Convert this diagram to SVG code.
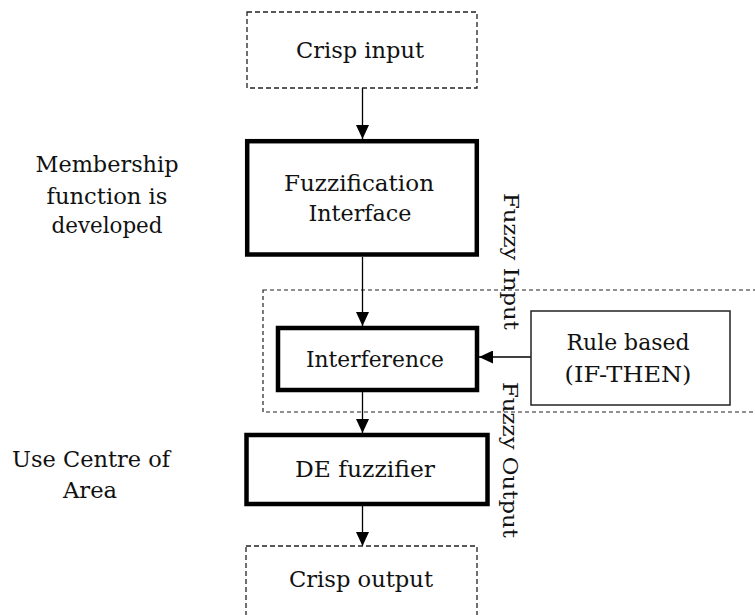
<svg xmlns="http://www.w3.org/2000/svg" width="755" height="615" viewBox="0 0 755 615">
  <style>
    .t { font-family: "DejaVu Serif", serif; font-size: 23px; text-anchor: middle; fill: #111; }
    .r { font-family: "DejaVu Serif", serif; font-size: 20px; text-anchor: middle; fill: #111; }
    .dash { fill: #fff; stroke: #222; stroke-width: 1.3; stroke-dasharray: 5 3; }
    .dashgrp { fill: none; stroke: #222; stroke-width: 1.2; stroke-dasharray: 4 3; }
    .thick { fill: #fff; stroke: #000; stroke-width: 4.5; }
    .thin { fill: #fff; stroke: #222; stroke-width: 1.5; }
    .link { fill: none; stroke: #000; stroke-width: 1.3; }
  </style>
  <defs>
    <marker id="arrow" markerUnits="userSpaceOnUse" markerWidth="14" markerHeight="13" refX="14" refY="6.5" orient="auto">
      <path d="M0,0 L14,6.5 L0,13 Z" fill="#000"/>
    </marker>
  </defs>

  <rect width="755" height="615" fill="#fff"/>

  <!-- dashed frame around the inference stage -->
  <g id="inference-frame">
    <rect class="dashgrp" x="263" y="290" width="520" height="122"/>
  </g>

  <g id="connectors">
    <line class="link" x1="362.5" y1="88" x2="362.5" y2="139" marker-end="url(#arrow)"/>
    <line class="link" x1="362.5" y1="257" x2="362.5" y2="326" marker-end="url(#arrow)"/>
    <line class="link" x1="531" y1="357" x2="479" y2="357" marker-end="url(#arrow)"/>
    <line class="link" x1="362.5" y1="392" x2="362.5" y2="433" marker-end="url(#arrow)"/>
    <line class="link" x1="362.5" y1="506" x2="362.5" y2="546" marker-end="url(#arrow)"/>
  </g>

  <g id="crisp-input">
    <rect class="dash" x="247" y="12" width="230" height="76"/>
    <text class="t" x="360" y="58" textLength="128" lengthAdjust="spacingAndGlyphs">Crisp input</text>
  </g>

  <g id="fuzzification">
    <rect class="thick" x="247.2" y="141.2" width="229.6" height="113.3"/>
    <text class="t" x="359" y="191" textLength="150" lengthAdjust="spacingAndGlyphs">Fuzzification</text>
    <text class="t" x="360" y="221" textLength="103" lengthAdjust="spacingAndGlyphs">Interface</text>
  </g>

  <g id="interference">
    <rect class="thick" x="278" y="328" width="199" height="62"/>
    <text class="t" x="375" y="367" textLength="138" lengthAdjust="spacingAndGlyphs">Interference</text>
  </g>

  <g id="rule-base">
    <rect class="thin" x="531" y="311" width="199" height="94"/>
    <text class="t" x="628" y="350" textLength="123" lengthAdjust="spacingAndGlyphs">Rule based</text>
    <text class="t" x="628" y="382" textLength="127" lengthAdjust="spacingAndGlyphs">(IF-THEN)</text>
  </g>

  <g id="defuzzifier">
    <rect class="thick" x="246.5" y="435" width="241" height="69"/>
    <text class="t" x="365" y="477" textLength="140" lengthAdjust="spacingAndGlyphs">DE fuzzifier</text>
  </g>

  <g id="crisp-output">
    <rect class="dash" x="246" y="546" width="231" height="80"/>
    <text class="t" x="361" y="587" textLength="144" lengthAdjust="spacingAndGlyphs">Crisp output</text>
  </g>

  <g id="fuzzy-input-label">
    <text class="r" transform="translate(504 261.5) rotate(90)" textLength="137" lengthAdjust="spacingAndGlyphs">Fuzzy Input</text>
  </g>

  <g id="fuzzy-output-label">
    <text class="r" transform="translate(503 460) rotate(90)" textLength="156" lengthAdjust="spacingAndGlyphs">Fuzzy Output</text>
  </g>

  <g id="membership-note">
    <text class="t" x="107" y="172" textLength="143" lengthAdjust="spacingAndGlyphs">Membership</text>
    <text class="t" x="107" y="204" textLength="121" lengthAdjust="spacingAndGlyphs">function is</text>
    <text class="t" x="107" y="233" textLength="111" lengthAdjust="spacingAndGlyphs">developed</text>
  </g>

  <g id="centroid-note">
    <text class="t" x="91" y="467" textLength="158" lengthAdjust="spacingAndGlyphs">Use Centre of</text>
    <text class="t" x="90" y="498" textLength="54" lengthAdjust="spacingAndGlyphs">Area</text>
  </g>
</svg>
